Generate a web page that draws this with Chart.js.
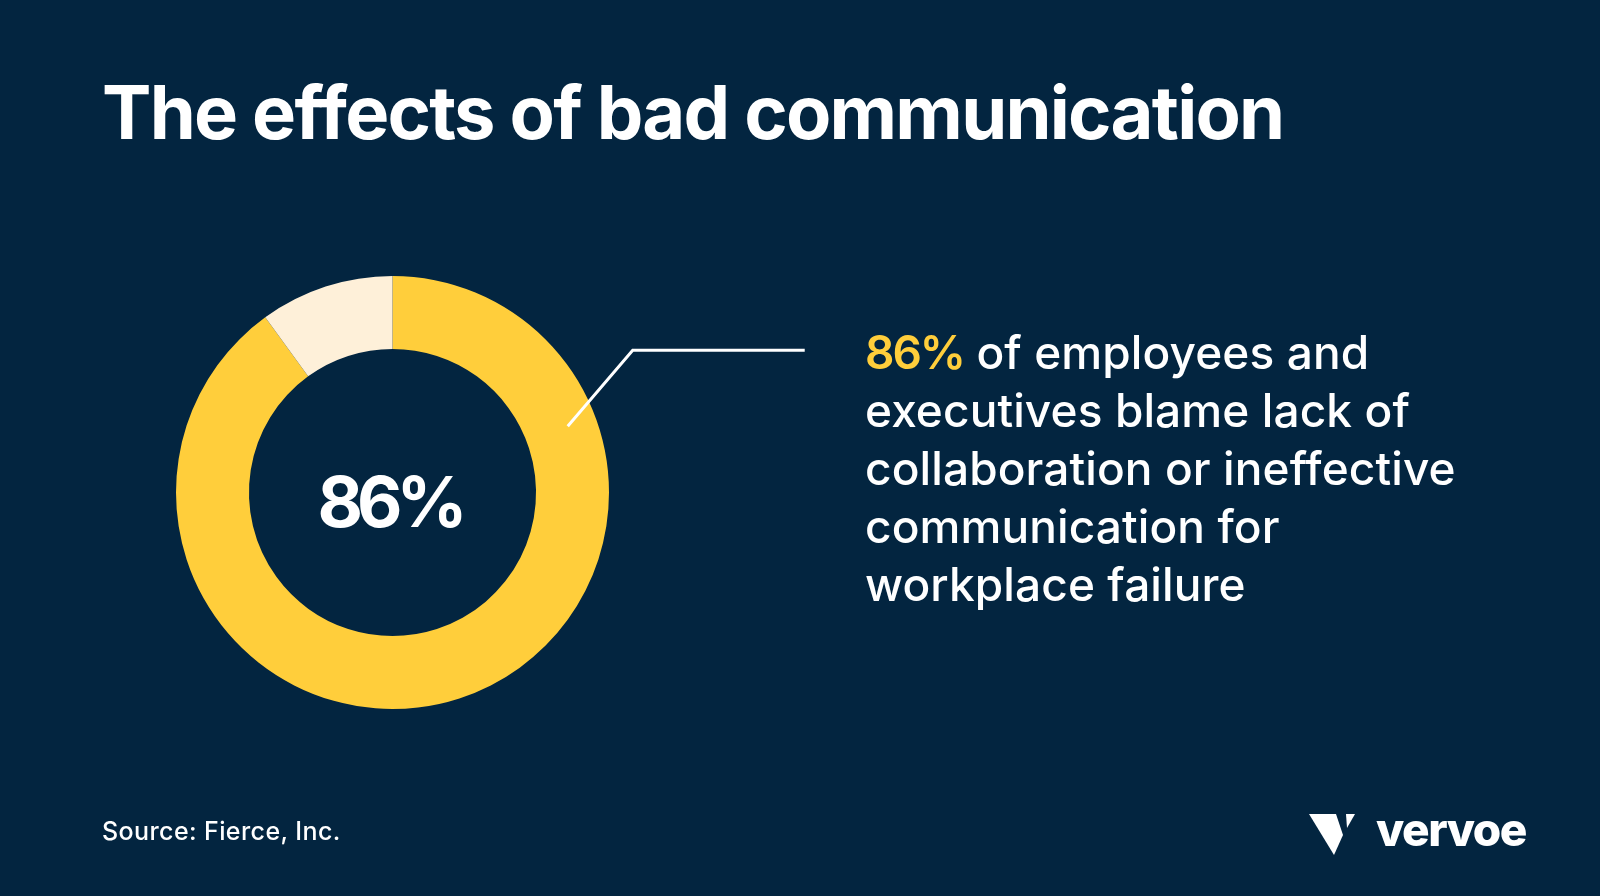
<!DOCTYPE html>
<html>
<head>
<meta charset="utf-8">
<script src="https://cdn.jsdelivr.net/npm/chart.js@4"></script>
<style>
  html, body { margin: 0; padding: 0; }
  body { width: 1600px; height: 896px; background: #032540; position: relative; overflow: hidden; font-family: Inter, sans-serif; color: #fff; }
  #title { position: absolute; left: 102px; top: 75px; font-size: 74px; font-weight: 700; letter-spacing: -1.75px; white-space: nowrap; line-height: 1; }
  #desc { position: absolute; left: 865px; top: 323px; font-size: 46px; font-weight: 500; line-height: 58px; letter-spacing: 0.1px; }
  #desc .hl { color: #FFCE3B; font-weight: 600; letter-spacing: -2px; }
  #source { position: absolute; left: 102px; top: 816px; font-size: 25px; font-weight: 500; letter-spacing: 0.4px; }
  #logo { position: absolute; left: 1306px; top: 812px; display: flex; align-items: center; }
  #logo span { font-size: 46px; font-weight: 800; margin-left: 20px; letter-spacing: -1.5px; line-height: 1; margin-top: -10px; }
  #wrap { position: absolute; left: 0; top: 0; width: 1600px; height: 896px; }
</style>
</head>
<body>
<div id="wrap"><canvas id="donutChart"></canvas></div>
<div id="title">The effects of bad communication</div>
<div id="desc"><span class="hl">86%</span> of employees and<br>executives blame lack of<br>collaboration or ineffective<br>communication for<br>workplace failure</div>
<div id="source">Source: Fierce, Inc.</div>
<div id="logo">
  <svg width="50" height="44" viewBox="0 0 50 44">
    <polygon points="3,2 30,2 37,23 28,43" fill="#fff"/>
    <polygon points="40,2 49,2 41,16" fill="#fff"/>
  </svg>
  <span>vervoe</span>
</div>
<script>
var labels = ['Blame collaboration / communication', 'Other'];
var shares = [90, 10];
var centerLabel = '86%';
var colors = ['#FFCE3B', '#FEF0D9'];

document.addEventListener("DOMContentLoaded", function() {
    // leader line + number in the hole
    var overlay = {
        id: 'overlay',
        afterDatasetsDraw: function(chart) {
            var arc = chart.getDatasetMeta(0).data[0];
            var ctx = chart.ctx;
            var cx = arc.x, cy = arc.y;
            var r = arc.innerRadius + (arc.outerRadius - arc.innerRadius) * 0.6;
            var a = -20.7 * Math.PI / 180;
            var sx = cx + r * Math.cos(a), sy = cy + r * Math.sin(a);
            ctx.save();
            ctx.strokeStyle = '#fff';
            ctx.lineWidth = 3;
            ctx.beginPath();
            ctx.moveTo(sx, sy);
            ctx.lineTo(sx + 65, sy - 76);
            ctx.lineTo(sx + 237, sy - 76);
            ctx.stroke();

            ctx.fillStyle = '#fff';
            ctx.font = '700 70px Inter';
            ctx.letterSpacing = '-6px';
            ctx.textAlign = 'center';
            ctx.textBaseline = 'alphabetic';
            ctx.fillText(centerLabel, cx - 3, cy + 34);
            ctx.restore();
        }
    };

    var ctx = document.getElementById('donutChart').getContext('2d');
    new Chart(ctx, {
        type: 'doughnut',
        data: {
            labels: labels,
            datasets: [{
                data: shares,
                backgroundColor: colors,
                borderWidth: 0
            }]
        },
        options: {
            responsive: true,
            maintainAspectRatio: false,
            animation: false,
            cutout: '66.3%',
            layout: {
                padding: { left: 176, top: 276, right: 991, bottom: 187 }
            },
            plugins: {
                legend: { display: false },
                tooltip: { enabled: false }
            }
        },
        plugins: [overlay]
    });
});
</script>
</body>
</html>
